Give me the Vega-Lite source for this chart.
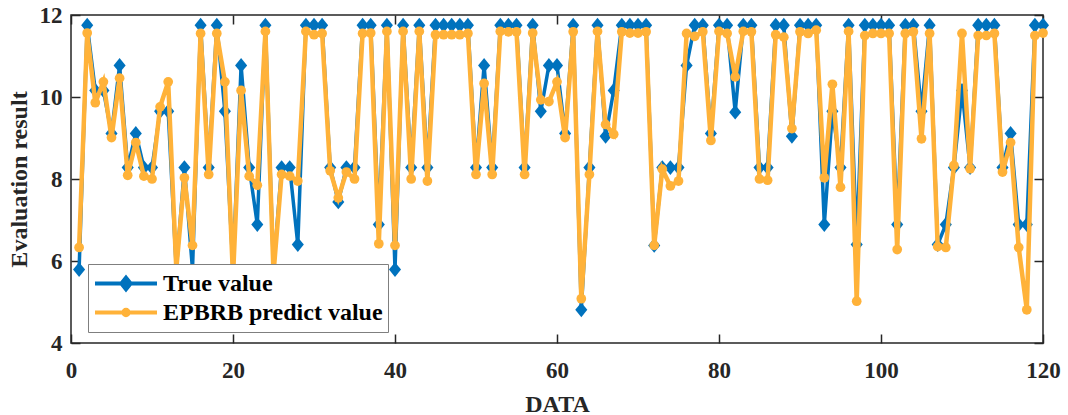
{
  "$schema": "https://vega.github.io/schema/vega-lite/v6.json",
  "width": 972,
  "height": 328,
  "autosize": {"type": "none"},
  "padding": {"left": 71, "top": 15, "right": 25, "bottom": 72},
  "background": "white",
  "config": {
    "view": {"stroke": "#262626", "strokeWidth": 1.5},
    "font": "Liberation Serif",
    "axis": {
      "labelFont": "Liberation Serif", "labelFontSize": 23, "labelFontWeight": "bold", "labelColor": "#262626",
      "titleFont": "Liberation Serif", "titleFontSize": 24, "titleFontWeight": "bold", "titleColor": "#262626",
      "domain": false, "grid": false, "tickColor": "#262626", "tickWidth": 1.5, "tickSize": -9,
      "labelFlush": false, "labelOverlap": false
    },
    "legend": {"labelFont": "Liberation Serif", "labelFontSize": 24, "labelFontWeight": "bold", "labelColor": "black"}
  },
  "data": {"values": [
    {"x":1,"t":5.79,"p":6.33},{"x":2,"t":11.75,"p":11.56},{"x":3,"t":10.16,"p":9.86},{"x":4,"t":10.16,"p":10.37},{"x":5,"t":9.11,"p":9.01},
    {"x":6,"t":10.77,"p":10.46},{"x":7,"t":8.28,"p":8.09},{"x":8,"t":9.11,"p":8.89},{"x":9,"t":8.28,"p":8.07},{"x":10,"t":8.28,"p":8.0},
    {"x":11,"t":9.65,"p":9.76},{"x":12,"t":9.65,"p":10.37},{"x":13,"t":5.79,"p":5.8},{"x":14,"t":8.28,"p":8.03},{"x":15,"t":5.79,"p":6.38},
    {"x":16,"t":11.75,"p":11.55},{"x":17,"t":8.28,"p":8.11},{"x":18,"t":11.75,"p":11.55},{"x":19,"t":9.65,"p":10.37},{"x":20,"t":5.79,"p":5.6},
    {"x":21,"t":10.77,"p":10.16},{"x":22,"t":8.28,"p":8.07},{"x":23,"t":6.89,"p":7.85},{"x":24,"t":11.75,"p":11.6},{"x":25,"t":5.79,"p":5.7},
    {"x":26,"t":8.28,"p":8.11},{"x":27,"t":8.28,"p":8.07},{"x":28,"t":6.4,"p":7.95},{"x":29,"t":11.75,"p":11.6},{"x":30,"t":11.75,"p":11.52},
    {"x":31,"t":11.75,"p":11.55},{"x":32,"t":8.28,"p":8.2},{"x":33,"t":7.44,"p":7.54},{"x":34,"t":8.28,"p":8.17},{"x":35,"t":8.28,"p":8.0},
    {"x":36,"t":11.75,"p":11.55},{"x":37,"t":11.75,"p":11.56},{"x":38,"t":6.89,"p":6.42},{"x":39,"t":11.75,"p":11.6},{"x":40,"t":5.79,"p":6.38},
    {"x":41,"t":11.75,"p":11.6},{"x":42,"t":8.28,"p":8.0},{"x":43,"t":11.75,"p":11.6},{"x":44,"t":8.28,"p":7.95},{"x":45,"t":11.75,"p":11.52},
    {"x":46,"t":11.75,"p":11.52},{"x":47,"t":11.75,"p":11.52},{"x":48,"t":11.75,"p":11.52},{"x":49,"t":11.75,"p":11.55},{"x":50,"t":8.28,"p":8.11},
    {"x":51,"t":10.77,"p":10.33},{"x":52,"t":8.28,"p":8.11},{"x":53,"t":11.75,"p":11.6},{"x":54,"t":11.75,"p":11.59},{"x":55,"t":11.75,"p":11.59},
    {"x":56,"t":8.28,"p":8.11},{"x":57,"t":11.75,"p":11.56},{"x":58,"t":9.65,"p":9.93},{"x":59,"t":10.77,"p":9.89},{"x":60,"t":10.77,"p":10.37},
    {"x":61,"t":9.11,"p":9.01},{"x":62,"t":11.75,"p":11.59},{"x":63,"t":4.81,"p":5.08},{"x":64,"t":8.28,"p":8.11},{"x":65,"t":11.75,"p":11.6},
    {"x":66,"t":9.04,"p":9.33},{"x":67,"t":10.16,"p":9.09},{"x":68,"t":11.75,"p":11.59},{"x":69,"t":11.75,"p":11.56},{"x":70,"t":11.75,"p":11.56},
    {"x":71,"t":11.75,"p":11.59},{"x":72,"t":6.38,"p":6.38},{"x":73,"t":8.28,"p":8.24},{"x":74,"t":8.28,"p":7.83},{"x":75,"t":8.28,"p":7.95},
    {"x":76,"t":10.77,"p":11.55},{"x":77,"t":11.75,"p":11.48},{"x":78,"t":11.75,"p":11.59},{"x":79,"t":9.11,"p":8.94},{"x":80,"t":11.75,"p":11.6},
    {"x":81,"t":11.75,"p":11.55},{"x":82,"t":9.63,"p":10.49},{"x":83,"t":11.75,"p":11.6},{"x":84,"t":11.75,"p":11.59},{"x":85,"t":8.28,"p":8.0},
    {"x":86,"t":8.28,"p":7.97},{"x":87,"t":11.75,"p":11.52},{"x":88,"t":11.75,"p":11.46},{"x":89,"t":9.04,"p":9.23},{"x":90,"t":11.75,"p":11.59},
    {"x":91,"t":11.75,"p":11.55},{"x":92,"t":11.75,"p":11.63},{"x":93,"t":6.89,"p":8.03},{"x":94,"t":9.65,"p":10.31},{"x":95,"t":8.28,"p":7.8},
    {"x":96,"t":11.75,"p":11.6},{"x":97,"t":6.4,"p":5.02},{"x":98,"t":11.75,"p":11.5},{"x":99,"t":11.75,"p":11.55},{"x":100,"t":11.75,"p":11.55},
    {"x":101,"t":11.75,"p":11.55},{"x":102,"t":6.89,"p":6.28},{"x":103,"t":11.75,"p":11.55},{"x":104,"t":11.75,"p":11.59},{"x":105,"t":9.65,"p":8.98},
    {"x":106,"t":11.75,"p":11.55},{"x":107,"t":6.4,"p":6.35},{"x":108,"t":6.89,"p":6.33},{"x":109,"t":8.28,"p":8.33},{"x":110,"t":10.16,"p":11.55},
    {"x":111,"t":8.28,"p":8.25},{"x":112,"t":11.75,"p":11.5},{"x":113,"t":11.75,"p":11.5},{"x":114,"t":11.75,"p":11.55},{"x":115,"t":8.28,"p":8.17},
    {"x":116,"t":9.11,"p":8.89},{"x":117,"t":6.89,"p":6.33},{"x":118,"t":6.89,"p":4.81},{"x":119,"t":11.75,"p":11.5},{"x":120,"t":11.75,"p":11.56}
  ]},
  "layer": [
    {
      "mark": {"type": "line", "strokeWidth": 3.5},
      "encoding": {
        "x": {"field": "x", "type": "quantitative", "scale": {"domain": [0, 120], "nice": false, "zero": false},
              "axis": {"orient": "bottom", "values": [0, 20, 40, 60, 80, 100, 120], "labelPadding": 25, "title": "DATA", "titlePadding": 10}},
        "y": {"field": "t", "type": "quantitative", "scale": {"domain": [4, 12], "nice": false, "zero": false},
              "axis": {"orient": "left", "values": [4, 6, 8, 10, 12], "labelPadding": 18, "title": "Evaluation result", "titlePadding": 8}},
        "color": {
          "datum": "True value", "type": "nominal",
          "scale": {"domain": ["True value", "EPBRB predict value"], "range": ["#0072BD", "#FFB239"]},
          "legend": {
            "orient": "none", "legendX": 17, "legendY": 249, "title": null,
            "fillColor": "white", "strokeColor": "#7f7f7f", "padding": 5,
            "symbolSize": 3844, "symbolStrokeWidth": 4, "clipHeight": 29, "rowPadding": 0, "symbolOffset": 0,
            "labelFont": "Liberation Serif", "labelFontSize": 24, "labelFontWeight": "bold", "labelColor": "black",
            "labelOffset": 4, "labelLimit": 400,
            "encode": {
              "symbols": {
                "update": {
                  "shape": {"signal": "datum.value === 'True value' ? 'M-1,0H1M0,-0.185L0.15,0L0,0.185L-0.15,0Z' : 'M-1,0H1M-0.085,0A0.085,0.085 0 1,0 0.085,0A0.085,0.085 0 1,0 -0.085,0Z'"},
                  "fill": {"signal": "datum.value === 'True value' ? '#0072BD' : '#FFB239'"},
                  "stroke": {"signal": "datum.value === 'True value' ? '#0072BD' : '#FFB239'"},
                  "opacity": {"value": 1}
                }
              },
              "labels": {
                "update": {
                  "font": {"value": "Liberation Serif"},
                  "fontSize": {"value": 24},
                  "fontWeight": {"value": "bold"},
                  "fill": {"value": "black"}
                }
              }
            }
          }
        }
      }
    },
    {
      "mark": {"type": "point", "shape": "M0,-1.1L0.9,0L0,1.1L-0.9,0Z", "filled": true, "size": 180, "opacity": 1, "strokeWidth": 0},
      "encoding": {
        "x": {"field": "x", "type": "quantitative", "scale": {"domain": [0, 120], "nice": false, "zero": false},
              "axis": {"orient": "top", "values": [0, 20, 40, 60, 80, 100, 120], "labels": false, "title": null}},
        "y": {"field": "t", "type": "quantitative", "scale": {"domain": [4, 12], "nice": false, "zero": false},
              "axis": {"orient": "right", "values": [4, 6, 8, 10, 12], "labels": false, "title": null}},
        "color": {"datum": "True value", "type": "nominal"}
      }
    },
    {
      "mark": {"type": "line", "strokeWidth": 4.5},
      "encoding": {
        "x": {"field": "x", "type": "quantitative", "axis": null},
        "y": {"field": "p", "type": "quantitative", "scale": {"domain": [4, 12], "nice": false, "zero": false}, "axis": null},
        "color": {"datum": "EPBRB predict value", "type": "nominal"}
      }
    },
    {
      "mark": {"type": "point", "shape": "circle", "filled": true, "size": 95, "opacity": 1, "strokeWidth": 0},
      "encoding": {
        "x": {"field": "x", "type": "quantitative", "axis": null},
        "y": {"field": "p", "type": "quantitative", "scale": {"domain": [4, 12], "nice": false, "zero": false}, "axis": null},
        "color": {"datum": "EPBRB predict value", "type": "nominal"}
      }
    }
  ],
  "resolve": {"axis": {"x": "independent", "y": "independent"}}
}
